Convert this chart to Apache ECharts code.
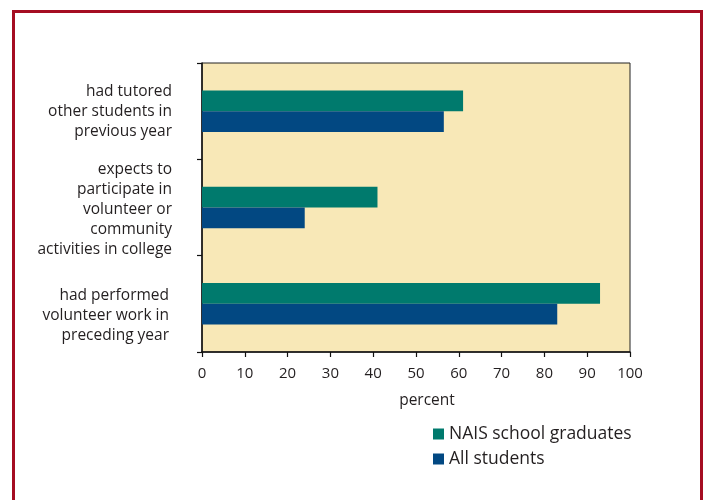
<!DOCTYPE html>
<html>
<head>
<meta charset="utf-8">
<script src="https://cdn.jsdelivr.net/npm/echarts@6/dist/echarts.min.js"></script>
<style>
  html, body { margin: 0; padding: 0; background: #ffffff; }
  #chart { width: 708px; height: 500px; }
</style>
</head>
<body>
<div id="chart"></div>
<script>
// Categories listed bottom to top (ECharts category y-axis grows upward)
const categories = [
  'had performed\nvolunteer work in\npreceding year',
  'expects to\nparticipate in\nvolunteer or\ncommunity\nactivities in college',
  'had tutored\nother students in\nprevious year'
];
const seriesNames = ['NAIS school graduates', 'All students'];
const naisValues = [93, 41, 61];
const allValues = [83, 24, 56.5];
const xTicks = [0, 10, 20, 30, 40, 50, 60, 70, 80, 90, 100];

const GREEN = '#007A6D';
const BLUE = '#024882';
const TEXT = '#231f20';
const FONT = 'Open Sans';

const chart = echarts.init(document.getElementById('chart'), null, { renderer: 'canvas' });

// Category label layout: an invisible spacer line pushes a label block down,
// and the "b" style trims the right edge of the bottom label a little.
const labelSpacer = [24, 5, 0];
const labelStyle = ['b', 'a', 'a'];

function categoryLabel(value, index) {
  const lines = value.split('\n').map(l => '{' + labelStyle[index] + '|' + l + '}');
  const sp = labelSpacer[index];
  if (sp > 0) {
    lines.unshift('{gap' + sp + '| }');
  }
  return lines.join('\n');
}

chart.setOption({
  backgroundColor: '#ffffff',
  animation: false,
  graphic: [{
    type: 'rect',
    shape: { x: 13.5, y: 11.5, width: 688, height: 520 },
    style: { fill: 'none', stroke: '#A50D22', lineWidth: 3 },
    silent: true
  }],
  legend: {
    orient: 'vertical',
    left: 428,
    top: 419,
    data: seriesNames,
    itemWidth: 11,
    itemHeight: 11,
    itemGap: 5,
    icon: 'rect',
    textStyle: { color: TEXT, fontFamily: FONT, fontSize: 17.5, lineHeight: 20, padding: [0, 0, 0, 0] }
  },
  grid: {
    left: 202, top: 63, right: 78, bottom: 148,
    show: true,
    backgroundColor: '#F8E8B7',
    borderColor: '#222',
    borderWidth: 1
  },
  xAxis: {
    type: 'value',
    min: xTicks[0],
    max: xTicks[xTicks.length - 1],
    interval: 10,
    name: 'percent',
    nameLocation: 'middle',
    nameGap: 41,
    nameTextStyle: { color: TEXT, fontFamily: FONT, fontSize: 15.5, padding: [0, 0, 0, 22] },
    axisLine: { show: true, lineStyle: { color: '#111', width: 1.5 } },
    axisTick: { show: true, length: 5, lineStyle: { color: '#111', width: 1.2 } },
    axisLabel: { color: TEXT, fontFamily: FONT, fontSize: 15, margin: 14 },
    splitLine: { show: false }
  },
  yAxis: {
    type: 'category',
    data: categories,
    axisLine: { show: true, lineStyle: { color: '#111', width: 1.5 } },
    axisTick: { show: true, length: 5, lineStyle: { color: '#111', width: 1.2 } },
    axisLabel: {
      color: TEXT, fontFamily: FONT, fontSize: 15.5, lineHeight: 20,
      align: 'right', margin: 30,
      formatter: categoryLabel,
      rich: {
        a: { color: TEXT, fontFamily: FONT, fontSize: 15.5, lineHeight: 20, align: 'right' },
        b: { color: TEXT, fontFamily: FONT, fontSize: 15.5, lineHeight: 20, align: 'right', padding: [0, 3, 0, 0] },
        gap24: { fontSize: 1, lineHeight: 24, height: 24 },
        gap5: { fontSize: 1, lineHeight: 5, height: 5 }
      }
    }
  },
  series: [
    {
      name: seriesNames[0],
      type: 'bar',
      data: naisValues,
      itemStyle: { color: GREEN },
      barGap: '0%',
      barCategoryGap: '57%'
    },
    {
      name: seriesNames[1],
      type: 'bar',
      data: allValues,
      itemStyle: { color: BLUE },
      barGap: '0%',
      barCategoryGap: '57%'
    }
  ]
});
</script>
</body>
</html>
